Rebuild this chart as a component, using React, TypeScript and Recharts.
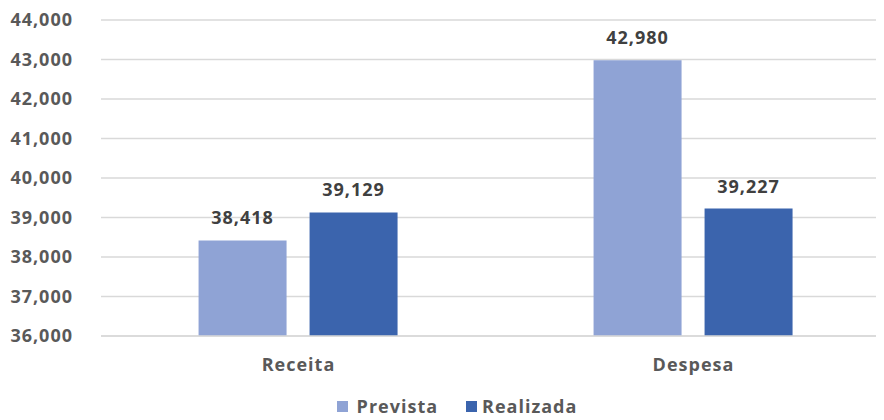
import React from "react";
import { BarChart, Bar, XAxis, YAxis, CartesianGrid, Legend, LabelList } from "recharts";

const categories = ["Receita", "Despesa"];
const prevista = [38418, 42980];
const realizada = [39129, 39227];
const yTicks = [36000, 37000, 38000, 39000, 40000, 41000, 42000, 43000, 44000];

const data = categories.map((c, i) => ({ name: c, Prevista: prevista[i], Realizada: realizada[i] }));

const FONT = "'Open Sans', sans-serif";
const fmt = (v: number) => v.toLocaleString("en-US");

const LegendContent = () => (
  <div style={{ display: "flex", justifyContent: "center", alignItems: "center", height: 20, fontFamily: FONT, fontWeight: 700, fontSize: 18, letterSpacing: 1, color: "#595959", lineHeight: "20px" }}>
    <span style={{ display: "inline-block", width: 11, height: 11, background: "#8FA3D5", marginRight: 9 }} />
    <span style={{ marginRight: 28 }}>Prevista</span>
    <span style={{ display: "inline-block", width: 11, height: 11, background: "#3B64AD", marginRight: 5 }} />
    <span>Realizada</span>
  </div>
);

export default function App() {
  return (
    <div style={{ margin: "-8px -8px 0 -8px", width: 884, height: 420, overflow: "hidden", background: "#fff" }}>
      <BarChart
        width={914}
        height={420}
        data={data}
        margin={{ top: 20, right: 23, bottom: 0, left: 0 }}
        barCategoryGap="24.7%"
        barGap={23}
      >
        <CartesianGrid vertical={false} stroke="#D9D9D9" strokeWidth={1.5} />
        <XAxis
          dataKey="name"
          axisLine={{ stroke: "#D9D9D9", strokeWidth: 1.5 }}
          tickLine={false}
          tickMargin={16}
          height={64}
          tick={{ fill: "#595959", fontFamily: FONT, fontWeight: 700, fontSize: 18, letterSpacing: 1 }}
        />
        <YAxis
          domain={[36000, 44000]}
          ticks={yTicks}
          allowDataOverflow
          axisLine={false}
          tickLine={false}
          width={101}
          tickMargin={22}
          tickFormatter={fmt}
          tick={{ fill: "#595959", fontFamily: FONT, fontWeight: 700, fontSize: 18, letterSpacing: 1 }}
        />
        <Legend verticalAlign="bottom" content={<LegendContent />} wrapperStyle={{ left: 0, width: 914, top: 396, bottom: "auto" }} />
        <Bar dataKey="Prevista" fill="#8FA3D5" isAnimationActive={false}>
          <LabelList dataKey="Prevista" position="top" offset={16} formatter={(v: any) => fmt(Number(v))} style={{ fill: "#404040", fontFamily: FONT, fontWeight: 700, fontSize: 18, letterSpacing: 1 }} />
        </Bar>
        <Bar dataKey="Realizada" fill="#3B64AD" isAnimationActive={false}>
          <LabelList dataKey="Realizada" position="top" offset={16} formatter={(v: any) => fmt(Number(v))} style={{ fill: "#404040", fontFamily: FONT, fontWeight: 700, fontSize: 18, letterSpacing: 1 }} />
        </Bar>
      </BarChart>
    </div>
  );
}
